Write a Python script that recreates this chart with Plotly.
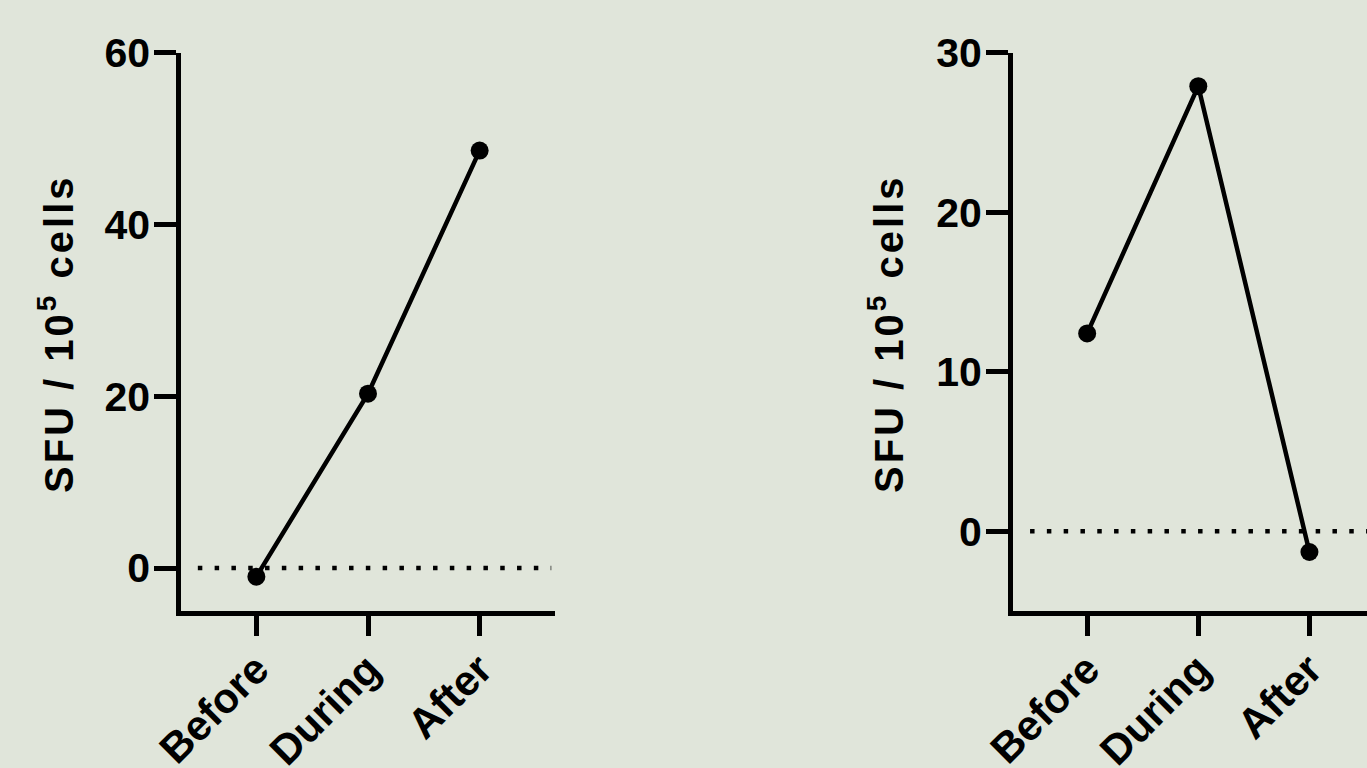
import plotly.graph_objects as go

categories = ["Before", "During", "After"]
left_values = [-1.0, 20.3, 48.6]
right_values = [12.4, 27.9, -1.3]
left_yticks = [0, 20, 40, 60]
right_yticks = [0, 10, 20, 30]
y_title = "SFU / 10<sup>5</sup> cells"

BG = "#e0e5da"
FONT = "Arial, Liberation Sans, sans-serif"
LW = 4.5

fig = go.Figure()
fig.add_trace(go.Scatter(x=[0, 1, 2], y=left_values, mode="lines+markers",
                         line=dict(color="black", width=LW),
                         marker=dict(color="black", size=18),
                         xaxis="x", yaxis="y", showlegend=False))
fig.add_trace(go.Scatter(x=[0, 1, 2], y=right_values, mode="lines+markers",
                         line=dict(color="black", width=LW),
                         marker=dict(color="black", size=18),
                         xaxis="x2", yaxis="y2", showlegend=False))

ytickfont = dict(family=FONT, size=41, color="black", weight="bold")
xtickfont = dict(family=FONT, size=42, color="black", weight="bold")
titlefont = dict(family=FONT, size=40, color="black", weight="bold")

common_x = dict(showgrid=False, zeroline=False, showline=True, linecolor="black",
                linewidth=LW, ticks="outside", ticklen=20, tickwidth=LW, tickcolor="black",
                tickmode="array", tickvals=[0, 1, 2], ticktext=categories,
                tickangle=-45, tickfont=xtickfont, automargin=False,
                ticklabelstandoff=-8)
common_y = dict(showgrid=False, zeroline=False, showline=True, linecolor="black",
                linewidth=LW, ticks="outside", ticklen=22, tickwidth=LW, tickcolor="black",
                tickfont=ytickfont, tickmode="array", automargin=False,
                ticklabelstandoff=-4)

fig.update_layout(
    width=1367, height=768,
    margin=dict(l=0, r=0, t=0, b=0, autoexpand=False),
    paper_bgcolor=BG, plot_bgcolor=BG,
    xaxis=dict(domain=[181/1367, 555/1367], range=[-0.675, 2.675], anchor="y", **common_x),
    yaxis=dict(domain=[0.2044, 0.9314], range=[-5, 60], anchor="x",
               tickvals=left_yticks, **common_y),
    xaxis2=dict(domain=[1012.7/1367, 1.0], range=[-0.67, 2.518], anchor="y2", **common_x),
    yaxis2=dict(domain=[0.2044, 0.9314], range=[-5, 30], anchor="x2",
                tickvals=right_yticks, **common_y),
)

title_html = '<span style="letter-spacing:3px">' + y_title + '</span>'
for xpos in (56 / 1367, 886 / 1367):
    fig.add_annotation(text=title_html, xref="paper", yref="paper", x=xpos, y=1 - 334 / 768,
                       xanchor="center", yanchor="middle", textangle=-90,
                       showarrow=False, font=titlefont)

dot = dict(color="black", width=LW, dash="4.5px,12.3px")
fig.add_shape(type="line", xref="x domain", yref="y", x0=0.045, x1=0.99, y0=0, y1=0,
              line=dot, layer="below")
fig.add_shape(type="line", xref="x2 domain", yref="y2", x0=0.049, x1=1.0, y0=0, y1=0,
              line=dot, layer="below")

fig.write_html("out.html", config={"displayModeBar": False},
               post_script="document.body.style.margin='0';")
